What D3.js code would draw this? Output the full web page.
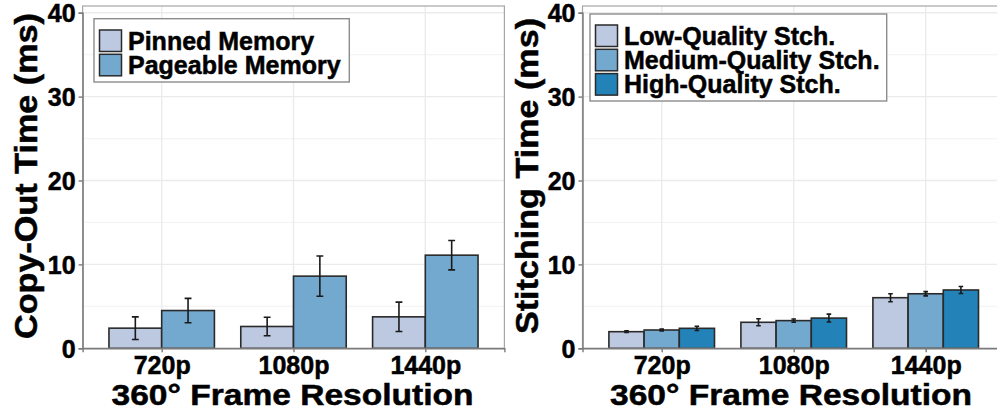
<!DOCTYPE html>
<html>
<head>
<meta charset="utf-8">
<script src="https://cdn.jsdelivr.net/npm/d3@7/dist/d3.min.js"></script>
<style>
  html, body { margin: 0; padding: 0; background: #fff; }
  svg { display: block; }
  text { font-family: "Liberation Sans", Arial, Helvetica, sans-serif; font-weight: bold; fill: #000; stroke: #000; stroke-width: 0.5px; }
</style>
</head>
<body>
<script>
// Resolutions on the x axis
const resolutions = ["720p", "1080p", "1440p"];

// Left panel: copy-out time (ms)
const copySeries = ["Pinned Memory", "Pageable Memory"];
const copyMean = [
  [2.4, 4.5],   // 720p
  [2.6, 8.6],   // 1080p
  [3.75, 11.1]  // 1440p
];
const copyErr = [
  [1.35, 1.45],
  [1.1, 2.4],
  [1.75, 1.75]
];

// Right panel: stitching time (ms)
const stitchSeries = ["Low-Quality Stch.", "Medium-Quality Stch.", "High-Quality Stch."];
const stitchMean = [
  [1.98, 2.18, 2.38],
  [3.1, 3.3, 3.6],
  [6.03, 6.5, 6.95]
];
const stitchErr = [
  [0.1, 0.1, 0.25],
  [0.42, 0.2, 0.47],
  [0.48, 0.25, 0.42]
];

const yTicks = [0, 10, 20, 30, 40];
const yMinor = [5, 15, 25, 35];

const palette = ["#bdc9e1", "#74a9cf", "#2383b8"];

const W = 997, H = 412;
const svg = d3.select("body").append("svg").attr("width", W).attr("height", H);

function panel(cfg) {
  const { left, right, top, bottom, series, means, errs, xTitleX, yTitle, legend } = cfg;
  const g = svg.append("g");

  const y = d3.scaleLinear().domain([0, 40]).range([bottom, 12.7]);
  const x = d3.scalePoint().domain(resolutions).range([left, right]).padding(0.6);
  const step = x.step();
  const xs = d3.scaleBand().domain(series).range([-0.4 * step, 0.4 * step]).padding(0);
  const bw = xs.bandwidth();

  // clip region of the plotting panel
  const clipId = "clip" + Math.round(left);
  svg.append("clipPath").attr("id", clipId)
    .append("rect").attr("x", left).attr("y", top).attr("width", right - left).attr("height", bottom - top);

  const inner = g.append("g").attr("clip-path", `url(#${clipId})`);

  // grid
  inner.selectAll(".minor").data(yMinor).join("line")
    .attr("x1", left).attr("x2", right)
    .attr("y1", d => y(d)).attr("y2", d => y(d))
    .attr("stroke", "#f4f4f4").attr("stroke-width", 1.2);
  inner.selectAll(".major").data(yTicks).join("line")
    .attr("x1", left).attr("x2", right)
    .attr("y1", d => y(d)).attr("y2", d => y(d))
    .attr("stroke", "#ebebeb").attr("stroke-width", 1.4);
  inner.selectAll(".vgrid").data(resolutions).join("line")
    .attr("x1", d => x(d)).attr("x2", d => x(d))
    .attr("y1", top).attr("y2", bottom)
    .attr("stroke", "#ebebeb").attr("stroke-width", 1.4);

  // bars
  const rows = [];
  resolutions.forEach((r, i) => series.forEach((s, j) => rows.push({ r, s, j, v: means[i][j], e: errs[i][j] })));

  inner.selectAll(".bar").data(rows).join("rect")
    .attr("x", d => x(d.r) + xs(d.s))
    .attr("y", d => y(d.v))
    .attr("width", bw)
    .attr("height", d => y(0) - y(d.v))
    .attr("fill", d => palette[d.j])
    .attr("stroke", "#2a2a2a").attr("stroke-width", 1.6);

  // error bars
  const cap = bw * 0.065;
  const cx = d => x(d.r) + xs(d.s) + bw / 2;
  const eb = inner.selectAll(".eb").data(rows).join("g")
    .attr("stroke", "#1a1a1a").attr("stroke-width", 1.6);
  eb.append("line")
    .attr("x1", cx).attr("x2", cx)
    .attr("y1", d => y(d.v + d.e)).attr("y2", d => y(d.v - d.e));
  eb.append("line")
    .attr("x1", d => cx(d) - cap).attr("x2", d => cx(d) + cap)
    .attr("y1", d => y(d.v + d.e)).attr("y2", d => y(d.v + d.e));
  eb.append("line")
    .attr("x1", d => cx(d) - cap).attr("x2", d => cx(d) + cap)
    .attr("y1", d => y(d.v - d.e)).attr("y2", d => y(d.v - d.e));

  // panel border
  g.append("rect").attr("x", left).attr("y", top).attr("width", right - left).attr("height", bottom - top)
    .attr("fill", "none").attr("stroke", "#a6a6a6").attr("stroke-width", 1.2);

  // axes
  const yAxis = g.append("g").attr("transform", `translate(${left},0)`)
    .call(d3.axisLeft(y).tickValues(yTicks).tickSize(4).tickPadding(3));
  const xAxis = g.append("g").attr("transform", `translate(0,${bottom})`)
    .call(d3.axisBottom(x).tickSize(4).tickPadding(4));
  [yAxis, xAxis].forEach(a => {
    a.select(".domain").attr("stroke", "#7a7a7a").attr("stroke-width", 1.4);
    a.selectAll(".tick line").attr("stroke", "#7a7a7a").attr("stroke-width", 1.4);
    a.selectAll("text").attr("font-size", 25).attr("fill", "#000")
      .style("font-family", '"Liberation Sans", Arial, sans-serif').style("font-weight", "bold");
  });
  xAxis.selectAll("text").attr("dy", "0.71em");
  yAxis.selectAll("text").attr("dy", "0.36em");

  // axis titles
  g.append("text")
    .attr("x", xTitleX)
    .attr("y", 405)
    .attr("text-anchor", "middle")
    .attr("font-size", 30)
    .attr("textLength", 362).attr("lengthAdjust", "spacingAndGlyphs")
    .text("360° Frame Resolution");

  g.append("text")
    .attr("transform", `translate(${yTitle.x},${yTitle.y}) rotate(-90)`)
    .attr("text-anchor", "middle")
    .attr("font-size", 31)
    .attr("textLength", yTitle.len).attr("lengthAdjust", "spacingAndGlyphs")
    .text(yTitle.text);

  // legend
  const lg = g.append("g");
  lg.append("rect").attr("x", legend.x).attr("y", legend.y).attr("width", legend.w).attr("height", legend.h)
    .attr("fill", "#fff").attr("stroke", "#8c8c8c").attr("stroke-width", 1.4);
  series.forEach((s, j) => {
    const ky = legend.y + legend.pad + j * 24.3;
    lg.append("rect").attr("x", legend.x + 5.5).attr("y", ky).attr("width", 22).attr("height", 21.5)
      .attr("fill", palette[j]).attr("stroke", "#2a2a2a").attr("stroke-width", 1.5);
    lg.append("text").attr("x", legend.x + 34).attr("y", ky + 19.5)
      .attr("font-size", 25).text(s);
  });
}

panel({
  left: 82.6, right: 504.4, top: 6, bottom: 348.3,
  series: copySeries, means: copyMean, errs: copyErr,
  xTitleX: 292.5,
  yTitle: { x: 37, y: 176, len: 326, text: "Copy-Out Time (ms)" },
  legend: { x: 94, y: 18.7, w: 255.3, h: 63.3, pad: 11.3 }
});

panel({
  left: 582.5, right: 1004.9, top: 6, bottom: 348.3,
  series: stitchSeries, means: stitchMean, errs: stitchErr,
  xTitleX: 791,
  yTitle: { x: 538, y: 176, len: 316, text: "Stitching Time (ms)" },
  legend: { x: 590, y: 14, w: 296.7, h: 87, pad: 11 }
});
</script>
</body>
</html>
